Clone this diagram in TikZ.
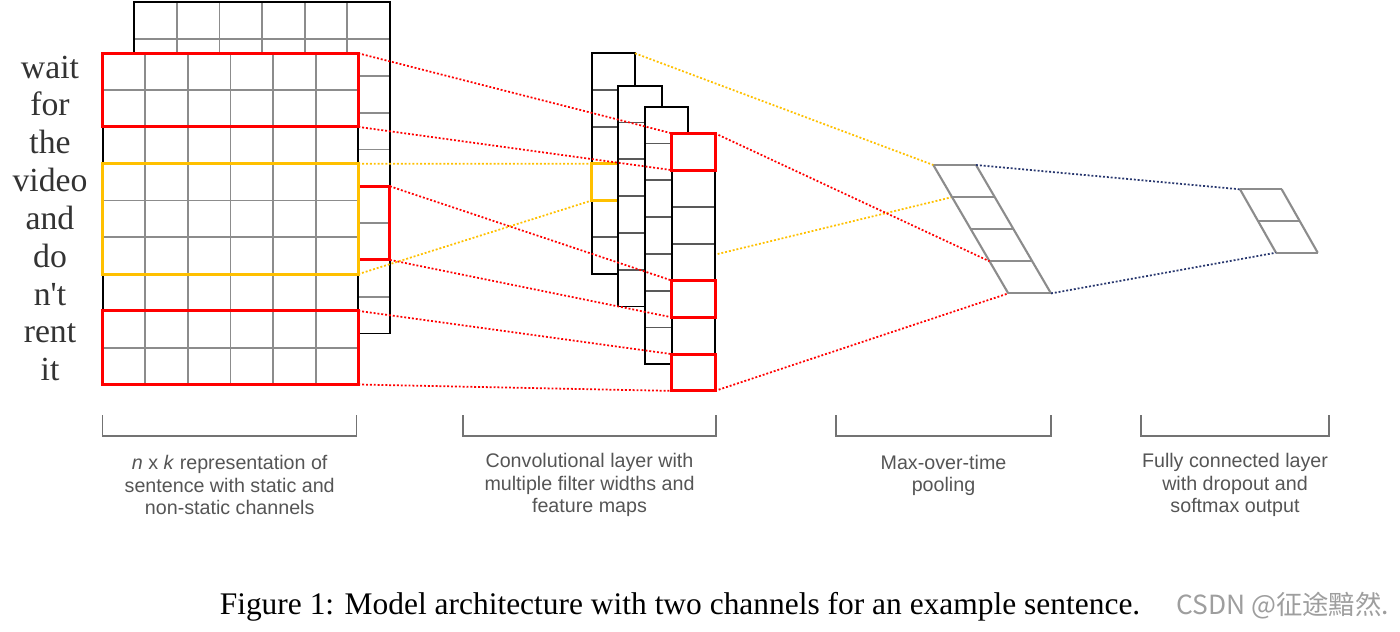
\documentclass[tikz,border=0pt]{standalone}
\usepackage{fontspec}
\setmainfont{Liberation Serif}[Ligatures=TeXOff]
\setsansfont{Liberation Sans}
\newfontfamily\cjkfont{Noto Sans CJK SC}
\usetikzlibrary{calc}
\pgfdeclarelayer{back}
\pgfsetlayers{back,main}
\definecolor{hotred}{RGB}{255,0,0}
\definecolor{gold}{RGB}{255,192,0}
\definecolor{gridgray}{RGB}{140,140,140}
\definecolor{linkblue}{RGB}{40,55,110}
\definecolor{inkgray}{RGB}{85,85,85}

\begin{document}
\begin{tikzpicture}[
  x=0.02cm,y=-0.02cm,
  cell/.style={gridgray,line width=1pt},
  frame/.style={draw=black,line width=1.1pt},
  hot/.style={draw=hotred,line width=1.7pt},
  warm/.style={draw=gold,line width=1.7pt},
  pool/.style={gridgray,line width=1.2pt},
  link/.style={line width=1pt,dash pattern=on 1.1pt off 1.1pt},
  brace/.style={black!55,line width=0.9pt},
  word/.style={font=\fontsize{19.2}{20}\selectfont,text=black!80,anchor=base},
  note/.style={font=\sffamily\fontsize{11.2}{12.6}\selectfont,text=inkgray,align=center}
]
  \useasboundingbox (0,0) rectangle (1400,632);

  % back channel
  \begin{scope}[shift={(134.3,2.3)}]
    \fill[white] (0,0) rectangle (255.6,331.2);
    \foreach \c in {1,...,5} \draw[cell] ({42.6*\c},0) -- ({42.6*\c},331.2);
    \foreach \r in {1,...,8} \draw[cell] (0,{36.8*\r}) -- (255.6,{36.8*\r});
    \draw[frame] (0,0) rectangle (255.6,331.2);
    \foreach \k in {0,...,9} \coordinate (b-\k) at (255.6,{36.8*\k});
  \end{scope}
  \draw[hot] ($(b-5)+(-31.6,0)$) rectangle (b-7);

  % front channel
  \begin{scope}[shift={(102.7,53.3)}]
    \fill[white] (0,0) rectangle (255.6,331.2);
    \foreach \c in {1,...,5} \draw[cell] ({42.6*\c},0) -- ({42.6*\c},331.2);
    \foreach \r in {1,...,8} \draw[cell] (0,{36.8*\r}) -- (255.6,{36.8*\r});
    \draw[frame] (0,0) rectangle (255.6,331.2);
    \foreach \k in {0,...,9} \coordinate (f-\k) at (255.6,{36.8*\k});
    \draw[hot] (0,0) rectangle (255.6,73.6);
    \draw[warm] (0,110.4) rectangle (255.6,220.8);
    \draw[hot] (0,257.6) rectangle (255.6,331.2);
  \end{scope}

  \foreach \w [count=\r from 0] in {wait,for,the,video,and,do,n't,rent,it}
    \node[word] (w\r) at (50,{78+37.85*\r}) {\w};

  % feature maps
  \foreach \mx/\my/\mr [count=\m] in {591.7/53.3/6,618.3/85.7/6,645/106.7/7,671.7/133.3/7} {
    \begin{scope}[shift={(\mx,\my)}]
      \fill[white] (0,0) rectangle (43.3,{36.8*\mr});
      \foreach \k in {0,...,\mr} {
        \coordinate (m\m-\k) at (0,{36.8*\k});
        \coordinate (n\m-\k) at (43.3,{36.8*\k});
      }
      \foreach \k in {1,...,6} {\ifnum\k<\mr \draw[black!65,line width=1pt] (m\m-\k) -- (n\m-\k);\fi}
      \draw[frame] (m\m-0) rectangle (n\m-\mr);
    \end{scope}
    \ifnum\m=1 \draw[warm] (m1-3) rectangle ($(m1-4)+(26.6,0)$);\fi
  }
  \foreach \k [evaluate=\k as \kk using int(\k+1)] in {0,4,6}
    \draw[hot] (m4-\k) rectangle (n4-\kk);

  % pooling and output
  \foreach \k in {0,...,4} {
    \coordinate (p-\k) at ({933.3+18.75*\k},{165+32.1*\k});
    \coordinate (q-\k) at ({976+18.75*\k},{165+32.1*\k});
    \draw[pool] (p-\k) -- (q-\k);
  }
  \draw[pool] (p-0) -- (p-4) (q-0) -- (q-4);
  \foreach \k in {0,...,2} {
    \coordinate (s-\k) at ({1240+18*\k},{189.3+31.7*\k});
    \coordinate (t-\k) at ({1281.7+18*\k},{189.3+31.7*\k});
    \draw[pool] (s-\k) -- (t-\k);
  }
  \draw[pool] (s-0) -- (s-2) (t-0) -- (t-2);

  % links
  \draw[link,hotred] (f-0) -- (m4-0) (f-2) -- (m4-1) (b-5) -- (m4-4) (b-7) -- (m4-5)
    (f-7) -- (m4-6) (f-9) -- (m4-7) (n4-0) -- (p-3) (n4-7) -- (p-4);
  \draw[link,gold] (f-3) -- (m1-3) (f-6) -- (m1-4) (n1-0) -- (p-0);
  \begin{pgfonlayer}{back}
    \draw[link,gold] (n1-6) -- (p-1);
  \end{pgfonlayer}
  \draw[link,linkblue] (q-0) -- (s-0) (q-4) -- (s-2);

  % brackets
  \foreach \a/\b in {102.7/356.7,463/716,836/1051,1141/1329}
    \draw[brace] (\a,415) |- (\b,436) -- (\b,415);
  \node[note] (lab1) at (229.7,485) {\textit{n} x \textit{k} representation of\\sentence with static and\\non-static channels};
  \node[note] (lab2) at (589.5,485) {Convolutional layer with\\multiple filter widths and\\feature maps};
  \node[note] (lab3) at (943.5,475) {Max-over-time\\pooling};
  \node[note] (lab4) at (1235,485) {Fully connected layer\\with dropout and\\softmax output};

  \node[font=\fontsize{17.9}{20}\selectfont] (fig) at (680,607) {Figure 1: Model architecture with two channels for an example sentence.};
  \node[font=\cjkfont\fontsize{15}{17}\selectfont,text=black!38,anchor=west] (mark) at (1170,606) {CSDN @征途黯然.};
\end{tikzpicture}
\end{document}
